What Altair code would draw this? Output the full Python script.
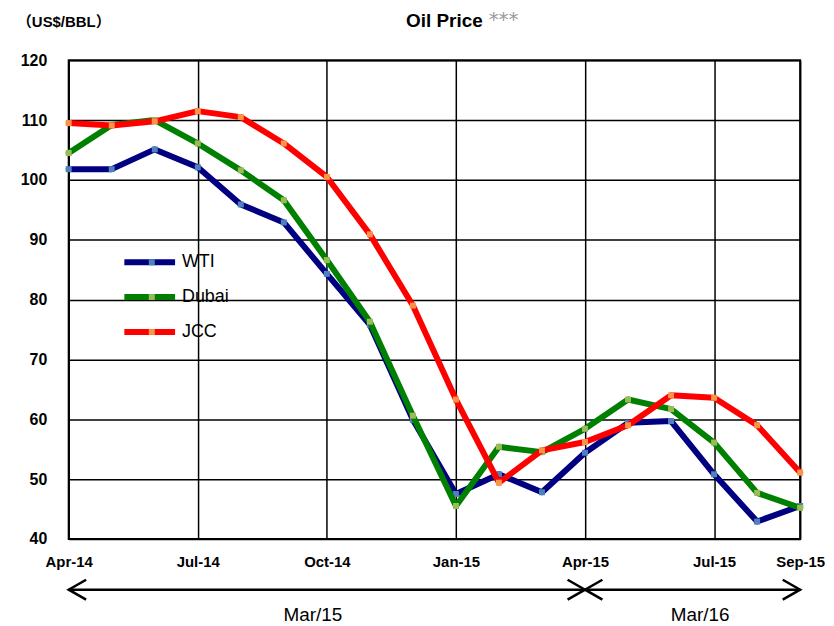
import altair as alt
import pandas as pd

# ---------------- data ----------------
months = ["Apr-14", "May-14", "Jun-14", "Jul-14", "Aug-14", "Sep-14", "Oct-14", "Nov-14", "Dec-14",
          "Jan-15", "Feb-15", "Mar-15", "Apr-15", "May-15", "Jun-15", "Jul-15", "Aug-15", "Sep-15"]
wti = [101.8, 101.8, 105.1, 102.1, 95.9, 92.9, 84.3, 75.8, 59.9,
       47.5, 50.8, 47.8, 54.4, 59.4, 59.7, 50.8, 42.9, 45.5]
dubai = [104.5, 109.2, 110.0, 106.1, 101.6, 96.6, 86.6, 76.3, 60.6,
         45.5, 55.4, 54.5, 58.4, 63.3, 61.7, 56.1, 47.7, 45.2]
jcc = [109.5, 109.1, 109.8, 111.5, 110.5, 106.1, 100.5, 90.9, 79.0,
       63.3, 49.4, 54.8, 56.2, 59.0, 64.0, 63.6, 59.0, 51.1]

series_names = ["WTI", "Dubai", "JCC"]
line_colors = ["#000080", "#008000", "#FF0000"]
marker_colors = ["#4F81BD", "#9BBB59", "#F79646"]

y_ticks = [40, 50, 60, 70, 80, 90, 100, 110, 120]
x_tick_months = ["Apr-14", "Jul-14", "Oct-14", "Jan-15", "Apr-15", "Jul-15", "Sep-15"]

period_labels = ["Mar/15", "Mar/16"]
period_start = ["Apr-14", "Apr-15"]
period_end = ["Apr-15", "Sep-15"]
period_label_at = ["Oct-14", "Jul-15"]

chart_title = "Oil Price"
title_mark = "***"
unit_label = "（US$/BBL）"

# ---------------- tables ----------------
rows = []
for name, vals in zip(series_names, [wti, dubai, jcc]):
    for m, v in zip(months, vals):
        rows.append({"month": m, "series": name, "marker": name, "price": v})
df = pd.DataFrame(rows)

arrow_rows, head_rows = [], []
for lab, s, e in zip(period_labels, period_start, period_end):
    arrow_rows += [{"period": lab, "month": s}, {"period": lab, "month": e}]
    head_rows += [{"period": lab, "month": s, "dir": "L"}, {"period": lab, "month": e, "dir": "R"}]
arrows_df = pd.DataFrame(arrow_rows)
heads_df = pd.DataFrame(head_rows)
labels_df = pd.DataFrame({"period": period_labels, "month": period_label_at})

FONT = "Liberation Sans, Arial, Noto Sans CJK JP, sans-serif"
W, H = 735, 481

xscale = alt.Scale(type="point", domain=months, padding=0)
yscale = alt.Scale(domain=[40, 120], nice=False, zero=False)

x_top = alt.X("month:O", scale=xscale, sort=months,
              axis=alt.Axis(values=x_tick_months, title=None, labelAngle=0, ticks=False, domain=False,
                            grid=True, gridColor="black", gridWidth=1.5, gridOpacity=1,
                            labelFont=FONT, labelFontSize=15, labelFontWeight="bold",
                            labelColor="black", labelPadding=16))
y_top = alt.Y("price:Q", scale=yscale,
              axis=alt.Axis(values=y_ticks, title=None, ticks=False, domain=False,
                            grid=True, gridColor="black", gridWidth=1.5, gridOpacity=1,
                            labelFont=FONT, labelFontSize=16, labelFontWeight="bold",
                            labelColor="black", labelPadding=22))

# legend: a long stroke drawn with a custom path so that the rows stay compact
legend_stroke = "M -5 0 L 5 0"
color_enc = alt.Color("series:N", scale=alt.Scale(domain=series_names, range=line_colors),
                      legend=alt.Legend(orient="none", legendX=72.4, legendY=194, title=None,
                                        symbolType=legend_stroke, symbolStrokeWidth=6, symbolSize=104,
                                        labelFont=FONT, labelFontSize=18, labelColor="black",
                                        labelOffset=23.4, rowPadding=11, padding=0))
fill_enc = alt.Fill("marker:N", sort=series_names, scale=alt.Scale(range=marker_colors),
                    legend=alt.Legend(orient="none", legendX=74.5, legendY=194, title=None,
                                      symbolType="square", symbolSize=36, symbolStrokeWidth=0,
                                      symbolOpacity=1, labelExpr="''",
                                      labelFont=FONT, labelFontSize=18,
                                      labelOffset=3, rowPadding=17, padding=0))

layers = []
for name in series_names:
    base = alt.Chart(df).transform_filter(alt.datum.series == name)
    layers.append(base.mark_line(strokeWidth=6, strokeCap="round", strokeJoin="round")
                  .encode(x=x_top, y=y_top, color=color_enc))
    layers.append(base.mark_square(size=36, opacity=1)
                  .encode(x=x_top, y=y_top, fill=fill_enc))

title_txt = alt.Chart(pd.DataFrame({"t": [chart_title]})).mark_text(
    font=FONT, fontSize=19, fontWeight="bold", color="black", align="left", baseline="alphabetic"
).encode(text="t:N", x=alt.value(339), y=alt.value(-33))
star_txt = alt.Chart(pd.DataFrame({"t": [title_mark]})).mark_text(
    font="DejaVu Sans", fontSize=20, color="#9A9A9A", align="left", baseline="alphabetic"
).encode(text="t:N", x=alt.value(422), y=alt.value(-34))
unit_txt = alt.Chart(pd.DataFrame({"t": [unit_label]})).mark_text(
    font=FONT, fontSize=15, fontWeight="bold", color="black", align="left", baseline="alphabetic"
).encode(text="t:N", x=alt.value(-52), y=alt.value(-33))

top = alt.layer(*layers, title_txt, star_txt, unit_txt).properties(
    width=W, height=H, view=alt.ViewBackground(stroke="black", strokeWidth=2)
)

# ---------------- bottom period arrows ----------------
x_bot = alt.X("month:O", scale=xscale, sort=months, axis=None)
path_l = "M 1.75 -1 L 0 0 L 1.75 1"
path_r = "M -1.75 -1 L 0 0 L -1.75 1"

arrow_line = alt.Chart(arrows_df).mark_line(strokeWidth=2.5, color="black").encode(
    x=x_bot, y=alt.value(18), detail="period:N")
arrow_heads = alt.Chart(heads_df).mark_point(filled=False, strokeWidth=2.5, size=400,
                                             color="black", opacity=1).encode(
    x=x_bot, y=alt.value(18),
    shape=alt.Shape("dir:N", scale=alt.Scale(domain=["L", "R"], range=[path_l, path_r]), legend=None))
period_txt = alt.Chart(labels_df).mark_text(font=FONT, fontSize=19, color="black",
                                            baseline="alphabetic", dx=-14).encode(
    x=x_bot, y=alt.value(49), text="period:N")

bottom = alt.layer(arrow_line, arrow_heads, period_txt).properties(
    width=W, height=49, view=alt.ViewBackground(stroke="transparent")
)

chart = alt.vconcat(top, bottom, spacing=0).properties(
    padding={"left": 8, "top": 0, "right": 0, "bottom": 0}
).configure(font=FONT).resolve_scale(color="independent", fill="independent")

chart.save("out.html", embed_options={"renderer": "svg", "actions": False})
